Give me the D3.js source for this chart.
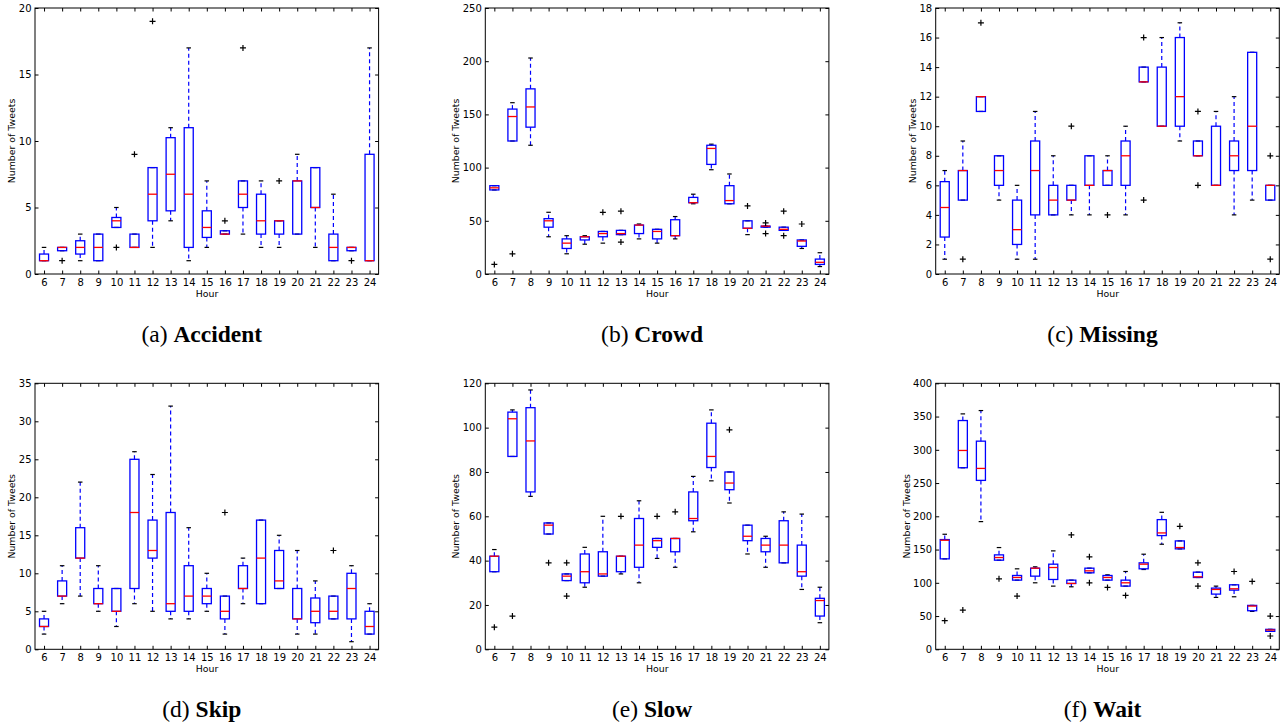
<!DOCTYPE html>
<html>
<head>
<meta charset="utf-8">
<script src="https://cdn.jsdelivr.net/npm/d3@7"></script>
<style>
  body { margin: 0; background: #fff; }
  svg { display: block; }
  .tick text { font-family: 'DejaVu Sans', sans-serif; font-size: 10px; fill: #000; }
  .tick line { stroke: #000; }
  .axisTitle { font-family: 'DejaVu Sans', sans-serif; font-size: 9.4px; fill: #000; }
  .caption { font-family: 'Liberation Serif', 'Times New Roman', serif; font-size: 23.5px; fill: #000; }
</style>
</head>
<body>
<svg id="chart" width="1287" height="725"></svg>
<script>
const hours = [6, 7, 8, 9, 10, 11, 12, 13, 14, 15, 16, 17, 18, 19, 20, 21, 22, 23, 24]

// each row: [whisker low, q1, median, q3, whisker high]
const accidentStats = [
  [1, 1, 1, 1.5, 2], [1.75, 1.75, 2, 2, 2], [1, 1.5, 2, 2.5, 3], [1, 1, 2, 3, 3], [3.5, 3.5, 4, 4.25, 5],
  [2, 2, 2, 3, 3], [2, 4, 6, 8, 8], [4, 4.75, 7.5, 10.25, 11], [1, 2, 6, 11, 17], [2, 2.75, 3.5, 4.75, 7],
  [3, 3, 3, 3.25, 3.25], [3, 5, 6, 7, 7], [2, 3, 4, 6, 7], [2, 3, 4, 4, 4], [3, 3, 7, 7, 9],
  [2, 5, 5, 8, 8], [1, 1, 2, 3, 6], [1.75, 1.75, 2, 2, 2], [1, 1, 1, 9, 17]
]
const accidentOutliers = [[], [1], [], [], [2], [9], [19], [], [], [], [4], [17], [], [7], [], [], [], [1], []]
const accidentTicks = [0, 5, 10, 15, 20]

const crowdStats = [
  [79, 79, 81, 83, 83], [125, 125, 148, 155, 161], [121, 138, 157, 174, 203], [35, 44, 50, 52, 58], [19, 24, 29, 33, 36],
  [28, 32, 35, 35, 36], [29, 35, 38, 40, 40], [37, 37, 38, 41, 41], [33, 38, 46, 46, 47], [29, 33, 40, 42, 42],
  [33, 36, 36, 51, 54], [66, 67, 67, 72, 75], [98, 103, 118, 121, 122], [66, 66, 69, 83, 94], [37, 43, 43, 50, 50],
  [44, 44, 45, 45, 45], [41, 41, 42, 44, 44], [24, 26, 31, 32, 32], [7, 9, 11, 14, 20]
]
const crowdOutliers = [[9], [19], [], [], [], [], [58], [59, 30], [], [], [], [], [], [], [64], [48, 38], [59, 36], [47], []]
const crowdTicks = [0, 50, 100, 150, 200, 250]

const missingStats = [
  [1, 2.5, 4.5, 6.25, 7], [5, 5, 7, 7, 9], [11, 11, 12, 12, 12], [5, 6, 7, 8, 8], [1, 2, 3, 5, 6],
  [1, 4, 7, 9, 11], [4, 4, 5, 6, 8], [4, 5, 5, 6, 6], [4, 6, 6, 8, 8], [6, 6, 7, 7, 8],
  [4, 6, 8, 9, 10], [13, 13, 13, 14, 14], [10, 10, 10, 14, 16], [9, 10, 12, 16, 17], [8, 8, 8, 9, 9],
  [6, 6, 6, 10, 11], [4, 7, 8, 9, 12], [5, 7, 10, 15, 15], [5, 5, 6, 6, 6]
]
const missingOutliers = [[], [1], [17], [], [], [], [], [10], [], [4], [], [16, 5], [], [], [11, 6], [], [], [], [8, 1]]
const missingTicks = [0, 2, 4, 6, 8, 10, 12, 14, 16, 18]

const skipStats = [
  [2, 3, 3, 4, 5], [6, 7, 7, 9, 11], [7, 12, 12, 16, 22], [5, 6, 6, 8, 11], [3, 5, 5, 8, 8],
  [6, 8, 18, 25, 26], [5, 12, 13, 17, 23], [4, 5, 6, 18, 32], [4, 5, 7, 11, 16], [5, 6, 7, 8, 10],
  [2, 4, 5, 7, 7], [6, 8, 8, 11, 12], [6, 6, 12, 17, 17], [8, 8, 9, 13, 15], [2, 4, 4, 8, 13],
  [2, 3.5, 5, 6.75, 9], [4, 4, 5, 7, 7], [1, 4, 8, 10, 11], [2, 2, 3, 5, 6]
]
const skipOutliers = [[], [], [], [], [], [], [], [], [], [], [18], [], [], [], [], [], [13], [], []]
const skipTicks = [0, 5, 10, 15, 20, 25, 30, 35]

const slowStats = [
  [35, 35, 42, 42, 45], [87, 87, 104, 107, 108], [69, 71, 94, 109, 117], [52, 52, 56, 57, 57], [31, 31, 33, 34, 34],
  [28, 30, 35, 43, 46], [33, 33, 34, 44, 60], [34, 35, 42, 42, 42], [30, 37, 47, 59, 67], [41, 46, 49, 50, 50],
  [37, 44, 50, 50, 50], [53, 58, 59, 71, 78], [76, 82, 87, 102, 108], [66, 72, 75, 80, 80], [43, 49, 51, 56, 56],
  [37, 44, 47, 50, 51], [39, 39, 47, 58, 62], [27, 33, 35, 47, 61], [12, 15, 22, 23, 28]
]
const slowOutliers = [[10], [15], [], [39], [39, 24], [], [], [60], [], [60], [62], [], [], [99], [], [], [], [], []]
const slowTicks = [0, 20, 40, 60, 80, 100, 120]

const waitStats = [
  [136, 136, 164, 165, 173], [273, 273, 299, 344, 354], [192, 254, 272, 313, 359], [134, 134, 138, 142, 153], [104, 104, 108, 111, 121],
  [100, 110, 122, 122, 124], [95, 105, 123, 128, 148], [94, 99, 99, 104, 104], [115, 115, 118, 122, 122], [104, 104, 108, 111, 112],
  [95, 95, 100, 104, 117], [120, 121, 128, 130, 143], [158, 171, 175, 195, 206], [151, 151, 153, 163, 163], [108, 108, 109, 116, 116],
  [78, 83, 90, 92, 95], [79, 89, 91, 97, 97], [57, 58, 65, 66, 66], [27, 27, 29, 30, 30]
]
const waitOutliers = [[43], [59], [], [106], [80], [], [], [172], [139, 100], [93], [81], [], [], [185], [130, 95], [], [117], [102], [50, 20]]
const waitTicks = [0, 50, 100, 150, 200, 250, 300, 350, 400]

const panels = [
  { letter: 'a', name: 'Accident', stats: accidentStats, outliers: accidentOutliers, ticks: accidentTicks, col: 0, row: 0 },
  { letter: 'b', name: 'Crowd', stats: crowdStats, outliers: crowdOutliers, ticks: crowdTicks, col: 1, row: 0 },
  { letter: 'c', name: 'Missing', stats: missingStats, outliers: missingOutliers, ticks: missingTicks, col: 2, row: 0 },
  { letter: 'd', name: 'Skip', stats: skipStats, outliers: skipOutliers, ticks: skipTicks, col: 0, row: 1 },
  { letter: 'e', name: 'Slow', stats: slowStats, outliers: slowOutliers, ticks: slowTicks, col: 1, row: 1 },
  { letter: 'f', name: 'Wait', stats: waitStats, outliers: waitOutliers, ticks: waitTicks, col: 2, row: 1 }
]

const layout = {
  lefts: [35, 485.3, 935.7],
  tops: [8, 383.3],
  width: 343.6,
  height: 266
}

const svg = d3.select('#chart')
panels.forEach((p) => drawPanel(svg, p))

function drawPanel (svg, p) {
  const left = layout.lefts[p.col]
  const top = layout.tops[p.row]
  const w = layout.width
  const h = layout.height

  const xScale = d3.scaleLinear().domain([5.5, 24.5]).range([0, w])
  const yScale = d3.scaleLinear().domain(d3.extent(p.ticks)).range([h, 0])
  const unit = xScale(1) - xScale(0)
  const boxW = unit * 0.5
  const capW = boxW * 0.5

  const g = svg.append('g').attr('transform', `translate(${left},${top})`)

  // axes with inward ticks on all four sides
  g.append('g')
    .attr('transform', `translate(0,${h})`)
    .call(d3.axisBottom(xScale).tickValues(hours).tickSizeInner(-3.5).tickSizeOuter(0).tickPadding(4.4))
  g.append('g')
    .call(d3.axisTop(xScale).tickValues(hours).tickSizeInner(-3.5).tickSizeOuter(0).tickFormat(''))
  g.append('g')
    .call(d3.axisLeft(yScale).tickValues(p.ticks).tickSizeInner(-3.5).tickSizeOuter(0).tickPadding(3.5))
  g.append('g')
    .attr('transform', `translate(${w},0)`)
    .call(d3.axisRight(yScale).tickValues(p.ticks).tickSizeInner(-3.5).tickSizeOuter(0).tickFormat(''))
  g.selectAll('.domain').remove()

  g.append('rect')
    .attr('width', w).attr('height', h)
    .attr('fill', 'none').attr('stroke', '#000').attr('stroke-width', 1)

  const data = p.stats.map((s, i) => ({ hour: hours[i], lo: s[0], q1: s[1], med: s[2], q3: s[3], hi: s[4], out: p.outliers[i] }))
  const items = g.selectAll('.item').data(data).join('g').attr('class', 'item')

  // whiskers
  items.append('line')
    .attr('x1', (d) => xScale(d.hour)).attr('x2', (d) => xScale(d.hour))
    .attr('y1', (d) => yScale(d.q1)).attr('y2', (d) => yScale(d.lo))
    .attr('stroke', '#0000ff').attr('stroke-width', 1.2).attr('stroke-dasharray', '4,3')
  items.append('line')
    .attr('x1', (d) => xScale(d.hour)).attr('x2', (d) => xScale(d.hour))
    .attr('y1', (d) => yScale(d.q3)).attr('y2', (d) => yScale(d.hi))
    .attr('stroke', '#0000ff').attr('stroke-width', 1.2).attr('stroke-dasharray', '4,3')

  // caps
  ;['lo', 'hi'].forEach((k) => {
    items.append('line')
      .attr('x1', (d) => xScale(d.hour) - capW / 2).attr('x2', (d) => xScale(d.hour) + capW / 2)
      .attr('y1', (d) => yScale(d[k])).attr('y2', (d) => yScale(d[k]))
      .attr('stroke', '#000').attr('stroke-width', 1.2)
  })

  // boxes
  items.append('rect')
    .attr('x', (d) => xScale(d.hour) - boxW / 2)
    .attr('y', (d) => yScale(d.q3))
    .attr('width', boxW)
    .attr('height', (d) => yScale(d.q1) - yScale(d.q3))
    .attr('fill', 'none').attr('stroke', '#0000ff').attr('stroke-width', 1.3)

  // medians
  items.append('line')
    .attr('x1', (d) => xScale(d.hour) - boxW / 2).attr('x2', (d) => xScale(d.hour) + boxW / 2)
    .attr('y1', (d) => yScale(d.med)).attr('y2', (d) => yScale(d.med))
    .attr('stroke', '#ff0000').attr('stroke-width', 1.3)

  // fliers
  items.selectAll('.flier')
    .data((d) => d.out.map((v) => ({ hour: d.hour, v })))
    .join('path')
    .attr('class', 'flier')
    .attr('d', (d) => {
      const x = xScale(d.hour), y = yScale(d.v)
      return `M${x - 3},${y}H${x + 3}M${x},${y - 3}V${y + 3}`
    })
    .attr('stroke', '#000').attr('stroke-width', 1.2)

  // axis titles (y title sits left of the widest tick label)
  const digits = d3.max(p.ticks, (t) => String(t).length)
  g.append('text')
    .attr('class', 'axisTitle')
    .attr('fill', '#000')
    .attr('x', Math.round(w / 2)).attr('y', h + 23)
    .attr('text-anchor', 'middle')
    .text('Hour')
  g.append('text')
    .attr('class', 'axisTitle')
    .attr('transform', `translate(${-(7 + digits * 6.36)},${h / 2}) rotate(-90)`)
    .attr('text-anchor', 'middle')
    .text('Number of Tweets')

  // caption
  const cap = g.append('text')
    .attr('class', 'caption')
    .attr('x', w / 2 - 5).attr('y', h + 68)
    .attr('text-anchor', 'middle')
  cap.append('tspan').text(`(${p.letter}) `)
  cap.append('tspan').attr('font-weight', 'bold').text(p.name)
}
</script>
</body>
</html>
